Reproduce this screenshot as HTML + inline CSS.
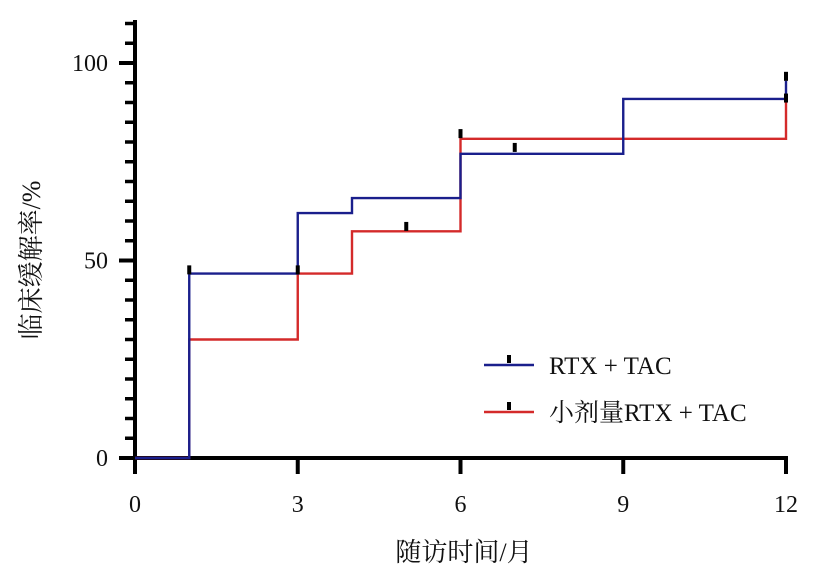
<!DOCTYPE html>
<html><head><meta charset="utf-8"><style>
body{margin:0;background:#fff;width:827px;height:580px;overflow:hidden}
text{font-family:"Liberation Serif","Noto Serif CJK SC",serif;fill:#111}
</style></head><body>
<svg id="chart" width="827" height="580" xmlns="http://www.w3.org/2000/svg"></svg>
<script>
const months=[0,1,3,4,6,9,12];
const blueVals=[0,46.7,62,65.8,77,90.9,95.5];
const redVals=[0,30,46.7,57.4,80.8,80.8,90.9];
const blueCensor=[[1,47.5],[3,47.5],[6,82],[7,78.5],[12,96.5],[12,91]];
const redCensor=[[5,58.5]];
const xTicks=[0,3,6,9,12];
const yTicks=[0,50,100];
const X=v=>135+v*(786-135)/12;
const Y=v=>458-v*(458-63)/100;
const svg=document.getElementById('chart');
const NS='http://www.w3.org/2000/svg';
function mk(t,a,p){const e=document.createElementNS(NS,t);for(const k in a)e.setAttribute(k,a[k]);(p||svg).appendChild(e);return e;}
let e=mk('line',{x1:135,y1:20,x2:135,y2:472,stroke:'#000','stroke-width':4});


e=mk('line',{x1:119,y1:458,x2:788,y2:458,stroke:'#000','stroke-width':4});


for(let v=5;v<=110;v+=5){if(v%50===0)continue;
 e=mk('line',{x1:125,y1:Y(v),x2:135,y2:Y(v),stroke:'#000','stroke-width':3.5});
 
 }
yTicks.forEach(v=>{
 e=mk('line',{x1:119,y1:Y(v),x2:135,y2:Y(v),stroke:'#000','stroke-width':4});
 
 
 e=mk('text',{x:108,y:Y(v)+8,'text-anchor':'end','font-size':24});e.textContent=v;
 
 });
xTicks.forEach(v=>{
 e=mk('line',{x1:X(v),y1:458,x2:X(v),y2:474,stroke:'#000','stroke-width':4});
 
 
 e=mk('text',{x:X(v),y:512,'text-anchor':'middle','font-size':24});e.textContent=v;
 
 });
e=mk('text',{x:464,y:561,'text-anchor':'middle','font-size':26});e.textContent='随访时间/月';


e=mk('text',{x:0,y:0,'text-anchor':'middle','font-size':26,transform:'translate(40,260) rotate(-90)'});e.textContent='临床缓解率/%';


function step(vals,color,name){let d='M'+X(months[0])+','+Y(vals[0]);
 for(let i=1;i<months.length;i++){d+=' H'+X(months[i])+' V'+Y(vals[i]);}
 const p=mk('path',{d:d,fill:'none',stroke:color,'stroke-width':2.4});
 
 }
step(redVals,'#d42a2a','red-series-line');
step(blueVals,'#1a1f8c','blue-series-line');
function cens(arr,name){arr.forEach(c=>{const r=mk('rect',{x:X(c[0])-2,y:Y(c[1])-5,width:4,height:9,fill:'#000'});
 
 });}
cens(blueCensor,'blue-censor-mark');cens(redCensor,'red-censor-mark');
const lg=[['#1a1f8c','RTX + TAC',365],['#d42a2a','小剂量RTX + TAC',412]];
lg.forEach(l=>{const g=mk('g',{});
 
 
 mk('line',{x1:484,y1:l[2],x2:534,y2:l[2],stroke:l[0],'stroke-width':2.4},g);
 mk('rect',{x:507,y:l[2]-10,width:4,height:8,fill:'#000'},g);
 const t=mk('text',{x:549,y:l[2]+9,'font-size':25},g);t.textContent=l[1];});
</script>
</body></html>
